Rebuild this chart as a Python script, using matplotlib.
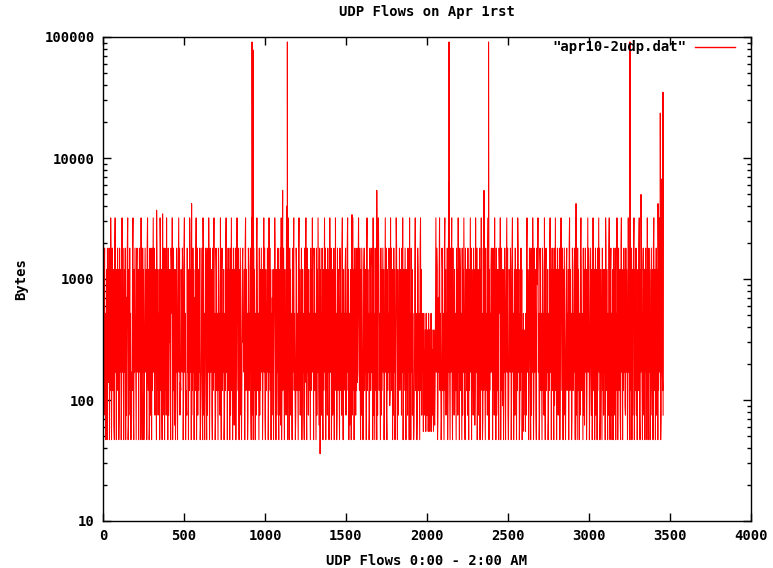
import numpy as np
import matplotlib.pyplot as plt
from matplotlib.ticker import FixedLocator, FuncFormatter, LogLocator, NullFormatter

# level codes used for the bulk of the flows (bytes)
levels = {'0': 47, '1': 55, '2': 75, '3': 120, '4': 170, '5': 260,
          '6': 380, '7': 520, '8': 1200, '9': 1800, 'X': 3200,
          'a': 62, 'b': 90, 'c': 140, 'd': 300, 'e': 700, 'f': 900}

# one code per 2.5 flows
codes = (
    "X4b8927038" "0948c9073X" "8049378a09" "X470839480" "2948d03X49"
    "7038490e27" "9X0a839270" "4c39X20849" "730894d807" "9480X3b094"
    "803794f809" "X4380a9248" "0937X49c28" "7409382748" "0X938b0729"
    "4809372X48" "0927d84098" "7X04938a70" "8493078X49" "2c38749803"
    "9X4703b294" "8073X94802" "7394807e38" "X049283749" "0a37940X82"
    "7049830927" "4X80c94872" "0938X47029" "837409f372" "X408937480"
    "2739X48079" "3840927X38" "0497a83904" "8X73940829" "730489d748"
    "09X3847029" "83749b0X27" "4093840729" "X837409283" "79480c7X49"
    "2083749803" "X4938072e4" "8037X94082" "749308729a" "X048379408"
    "37294b0X37" "0948273094" "8X37402983" "7409X38274" "903847209c"
    "8X30947283" "740938dX47" "0983740928" "4X73a94837" "2940837X49"
    "0837294803" "X7490382b4" "9083X47029" "387409f372" "9X40837489"
    "2739X4807a" "3840927X38" "04972839c4" "8X73940829" "7304893748"
    "09X3847029" "8374980X27" "4093e40729" "X837409283" "7948037X49"
    "20837498b3" "X493807294" "8037X94082" "7493d87294" "X048379408"
    "3729480X37" "09482730a4" "8X37402983" "7409X38274" "6172536172"
    "52617261b2" "716253162a" "37X49802e4" "8X37402983" "7409X38274"
    "903847c094" "8X30947283" "7409382X47" "0983740928" "4X73094837"
    "2940837X49" "08372948a3" "X749038274" "9083X47029" "387409d372"
    "9X40837489" "4809372X48" "0927384098" "7X04938b70" "8493078X49"
    "2038749803" "9X470c8294" "8073X94802" "7394806172" "5361729X48"
    "7049830927" "4X80394872" "09f8X47029" "8374098372" "X408937480"
    "2739X48079" "38409b7X38" "0497283904" "8X73940829" "7304893748"
    "09X3847029" "8374980X27" "4093840729" "X83740928a" "7948037X49"
    "803794280c" "X438079248" "0937X49028" "7409382748" "0X93840729"
    "X408927038" "094829073X" "8049378209" "X47083948b" "2948703X49"
    "7038490827" "9X04839270" "4839X20849" "7308942807" "9480X37094"
    "8037942809" "X438079248" "0937X49028" "7432"
)
flow_step = 2.5

# isolated spikes (flow number, bytes)
spike_flows = [331, 368, 547, 920, 927, 1109, 1133, 1138, 1340, 1537, 1690,
               2133, 2136, 2352, 2380, 2920, 3253, 3321, 3426, 3440, 3447, 3457]
spike_bytes = [3700, 3450, 4200, 91000, 78000, 5400, 4000, 91000, 36, 3400, 5400,
               6400, 91000, 5400, 91000, 4200, 91000, 5000, 4200, 23500, 6700, 35000]

x = np.arange(len(codes)) * flow_step
y = np.array([levels[c] for c in codes], dtype=float)
x = np.concatenate([x, spike_flows]).astype(float)
y = np.concatenate([y, spike_bytes])
order = np.argsort(x, kind='stable')
x, y = x[order], y[order]

font = dict(family='DejaVu Sans Mono', weight='bold', size=10)

fig = plt.figure(figsize=(7.73, 5.68), dpi=100)
ax = fig.add_axes([103 / 773, 1 - 521 / 568, 648 / 773, 484 / 568])

ax.plot(x, y, color='#ff0000', lw=0.75)

ax.set_yscale('log')
ax.set_xlim(0, 4000)
ax.set_ylim(10, 100000)

ax.xaxis.set_major_locator(FixedLocator(np.arange(0, 4001, 500)))
ax.yaxis.set_major_locator(LogLocator(base=10, numticks=10))
ax.yaxis.set_minor_locator(LogLocator(base=10, subs=np.arange(2, 10), numticks=10))
ax.yaxis.set_major_formatter(FuncFormatter(lambda v, p: '%d' % v))
ax.yaxis.set_minor_formatter(NullFormatter())
ax.tick_params(which='both', direction='in', top=True, right=True, color='black')
ax.tick_params(which='major', length=6, width=1, pad=6)
ax.tick_params(which='minor', length=3, width=1)
for lab in ax.get_xticklabels() + ax.get_yticklabels():
    lab.set_fontproperties('DejaVu Sans Mono')
    lab.set_fontweight('bold')
    lab.set_fontsize(10)
for s in ax.spines.values():
    s.set_linewidth(1)

ax.set_title('UDP Flows on Apr 1rst', pad=15, **font)
ax.set_xlabel('UDP Flows 0:00 - 2:00 AM', labelpad=8, **font)
ax.set_ylabel('Bytes', labelpad=12, **font)

# gnuplot style key in the top right corner
ky = 1 - 10 / 484
ax.text((686 - 103) / 648, ky, '"apr10-2udp.dat"', transform=ax.transAxes,
        ha='right', va='center', **font)
ax.plot([(695 - 103) / 648, (735 - 103) / 648], [ky, ky], color='#ff0000', lw=1,
        transform=ax.transAxes)

fig.savefig('out.png', dpi=100)
